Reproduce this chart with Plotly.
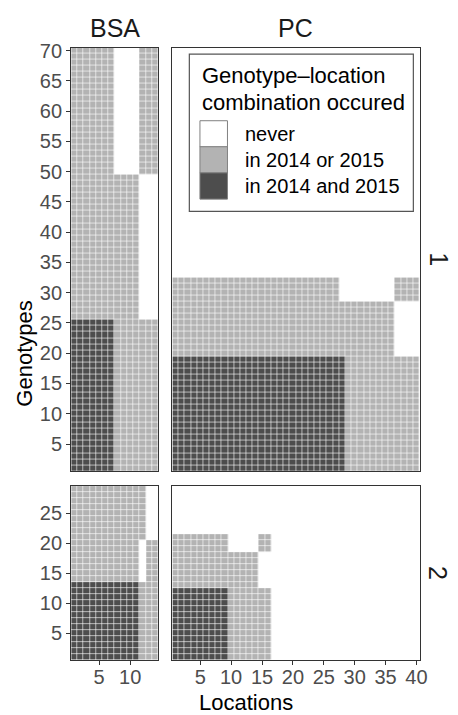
import plotly.graph_objects as go

# ---------------- data ----------------
# status codes: 0 = never, 1 = in 2014 or 2015, 2 = in 2014 and 2015
status_labels = ["never", "in 2014 or 2015", "in 2014 and 2015"]
status_colors = ["#ffffff", "#b3b3b3", "#4d4d4d"]

bsa_locations = list(range(1, 15))
pc_locations = list(range(1, 41))
genotypes_row1 = list(range(1, 71))
genotypes_row2 = list(range(1, 30))

# (first genotype, last genotype, status per location)
bsa_row1_bands = [
    (1, 25, "22222221111111"),
    (26, 49, "11111111111000"),
    (50, 70, "11111110000111"),
]
pc_row1_bands = [
    (1, 19, "2222222222222222222222222222111111111111"),
    (20, 28, "1111111111111111111111111111111111110000"),
    (29, 32, "1111111111111111111111111110000000001111"),
    (33, 70, "0000000000000000000000000000000000000000"),
]
bsa_row2_bands = [
    (1, 13, "22222222222111"),
    (14, 20, "11111111111011"),
    (21, 29, "11111111111100"),
]
pc_row2_bands = [
    (1, 12, "2222222221111111000000000000000000000000"),
    (13, 18, "1111111111111100000000000000000000000000"),
    (19, 21, "1111111110000011000000000000000000000000"),
    (22, 29, "0000000000000000000000000000000000000000"),
]

x_ticks_bsa = [5, 10]
x_ticks_pc = [5, 10, 15, 20, 25, 30, 35, 40]
y_ticks_row1 = [5, 10, 15, 20, 25, 30, 35, 40, 45, 50, 55, 60, 65, 70]
y_ticks_row2 = [5, 10, 15, 20, 25]

facet_cols = ["BSA", "PC"]
facet_rows = ["1", "2"]
legend_title = ["Genotype\u2013location", "combination occured"]


def expand(bands, genotypes):
    z = []
    for g in genotypes:
        for lo, hi, s in bands:
            if lo <= g <= hi:
                z.append([int(c) for c in s])
                break
    return z


# ---------------- geometry (pixels) ----------------
W, H = 458, 715


def px(x):
    return x / W


def py(y):
    return 1 - y / H


col_x = [(72.5, 161.0), (175.5, 427.0)]
row_y = [(40.0, 468.5), (483.5, 659.5)]

colorscale = [
    [0.0, status_colors[0]], [1 / 3, status_colors[0]],
    [1 / 3, status_colors[1]], [2 / 3, status_colors[1]],
    [2 / 3, status_colors[2]], [1.0, status_colors[2]],
]

fig = go.Figure()

panels = [
    (0, 0, bsa_locations, genotypes_row1, bsa_row1_bands),
    (0, 1, pc_locations, genotypes_row1, pc_row1_bands),
    (1, 0, bsa_locations, genotypes_row2, bsa_row2_bands),
    (1, 1, pc_locations, genotypes_row2, pc_row2_bands),
]

line_col = "#333333"
font_family = "Liberation Sans, Arial, sans-serif"
tick_font = dict(family=font_family, size=20, color="#4d4d4d")

for i, (r, c, locs, gens, bands) in enumerate(panels):
    idx = i + 1
    xa = "x" if idx == 1 else f"x{idx}"
    ya = "y" if idx == 1 else f"y{idx}"
    fig.add_trace(go.Heatmap(
        x=locs, y=gens, z=expand(bands, gens),
        zmin=0, zmax=2, colorscale=colorscale, showscale=False,
        xgap=0.6, ygap=0.6, xaxis=xa, yaxis=ya, hoverinfo="skip",
    ))
    xkey = "xaxis" if idx == 1 else f"xaxis{idx}"
    ykey = "yaxis" if idx == 1 else f"yaxis{idx}"
    bottom = (r == 1)
    left = (c == 0)
    fig.layout[xkey] = dict(
        domain=[px(col_x[c][0]), px(col_x[c][1])],
        range=[0.5, len(locs) + 0.5],
        anchor=ya, showgrid=False, zeroline=False,
        showline=True, mirror=True, linecolor=line_col, linewidth=1.3,
        ticks="outside" if bottom else "", ticklen=4, tickwidth=1.2, tickcolor=line_col,
        showticklabels=bottom, ticklabelstandoff=-5,
        tickvals=(x_ticks_bsa if c == 0 else x_ticks_pc),
        tickfont=tick_font,
    )
    fig.layout[ykey] = dict(
        domain=[py(row_y[r][1]), py(row_y[r][0])],
        range=[0.5, len(gens) + 0.5],
        anchor=xa, showgrid=False, zeroline=False,
        showline=True, mirror=True, linecolor=line_col, linewidth=1.3,
        ticks="outside" if left else "", ticklen=4, tickwidth=1.2, tickcolor=line_col,
        showticklabels=left,
        tickvals=(y_ticks_row1 if r == 0 else y_ticks_row2),
        tickfont=tick_font,
    )

ann = []
# strip labels (columns)
for c, name in enumerate(facet_cols):
    ann.append(dict(text=name, x=px((col_x[c][0] + col_x[c][1]) / 2), y=py(20.5),
                    xref="paper", yref="paper", showarrow=False,
                    xanchor="center", yanchor="middle",
                    font=dict(family=font_family, size=25, color="#1a1a1a")))
# strip labels (rows)
for r, name in enumerate(facet_rows):
    ann.append(dict(text=name, x=px(446), y=py((row_y[r][0] + row_y[r][1]) / 2),
                    xref="paper", yref="paper", showarrow=False, textangle=90,
                    xanchor="center", yanchor="middle",
                    font=dict(family=font_family, size=25, color="#1a1a1a")))
# axis titles
ann.append(dict(text="Genotypes", x=px(25), y=py(350), xref="paper", yref="paper",
                showarrow=False, textangle=-90, xanchor="center", yanchor="middle",
                font=dict(family=font_family, size=22, color="#000000")))
ann.append(dict(text="Locations", x=px(250), y=py(702), xref="paper", yref="paper",
                showarrow=False, xanchor="center", yanchor="middle",
                font=dict(family=font_family, size=22, color="#000000")))

# legend (drawn inside PC panel, row 1)
shapes = [dict(type="rect", xref="paper", yref="paper",
               x0=px(192.7), x1=px(420.7), y0=py(205.7), y1=py(46.7),
               line=dict(color="#555555", width=1.2), fillcolor="#ffffff", layer="above")]
ann.append(dict(text=legend_title[0], x=px(204), y=py(68.5), xref="paper", yref="paper",
                showarrow=False, xanchor="left", yanchor="middle",
                font=dict(family=font_family, size=22, color="#000000")))
ann.append(dict(text=legend_title[1], x=px(204), y=py(95.5), xref="paper", yref="paper",
                showarrow=False, xanchor="left", yanchor="middle",
                font=dict(family=font_family, size=22, color="#000000")))
key_tops = [114.0, 140.3, 166.7]
key_h = 26.6
for k, (lab, col) in enumerate(zip(status_labels, status_colors)):
    shapes.append(dict(type="rect", xref="paper", yref="paper",
                       x0=px(203.5), x1=px(231.5),
                       y0=py(key_tops[k] + key_h), y1=py(key_tops[k]),
                       line=dict(color="#808080", width=1), fillcolor=col, layer="above"))
    ann.append(dict(text=lab, x=px(247.5), y=py(key_tops[k] + key_h / 2),
                    xref="paper", yref="paper", showarrow=False,
                    xanchor="left", yanchor="middle",
                    font=dict(family=font_family, size=20, color="#000000")))

fig.update_layout(
    width=W, height=H, margin=dict(l=0, r=0, t=0, b=0),
    paper_bgcolor="#ffffff", plot_bgcolor="#ffffff",
    showlegend=False, annotations=ann, shapes=shapes,
)

fig.write_html("out.html",
               config={"displayModeBar": False},
               post_script="document.body.style.margin='0';document.body.style.padding='0';")
